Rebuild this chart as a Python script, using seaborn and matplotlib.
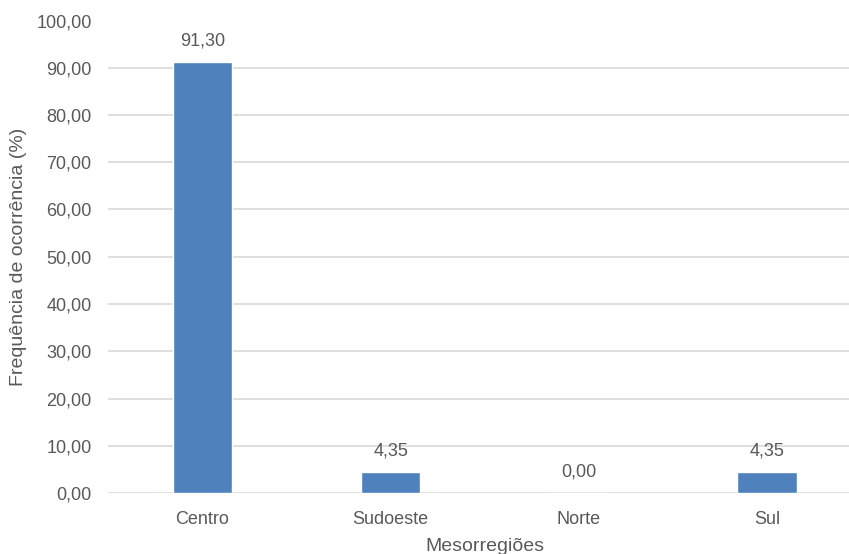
import seaborn as sns
import matplotlib.pyplot as plt
import pandas as pd

regioes = ['Centro', 'Sudoeste', 'Norte', 'Sul']
frequencia = [91.30, 4.35, 0.00, 4.35]
yticks = [0, 10, 20, 30, 40, 50, 60, 70, 80, 90, 100]

df = pd.DataFrame({'regiao': regioes, 'freq': frequencia})

sns.set_style('white')
plt.rcParams['font.family'] = ['Liberation Sans', 'DejaVu Sans']
cinza = '#595959'

fig = plt.figure(figsize=(8.49, 5.54), dpi=100)
ax = fig.add_axes([108.4 / 849, 61 / 554, 752.7 / 849, 472.5 / 554])

sns.barplot(data=df, x='regiao', y='freq', color='#4F81BD', saturation=1,
            width=0.315, ax=ax, zorder=3)

ax.set_ylim(0, 100)
ax.set_yticks(yticks)
ax.set_yticklabels([f'{v:.2f}'.replace('.', ',') for v in yticks])
ax.yaxis.grid(True, color='#D9D9D9', linewidth=1.2, zorder=0)
ax.set_axisbelow(True)
for s in ax.spines.values():
    s.set_visible(False)
ax.tick_params(axis='both', length=0, labelsize=13, colors=cinza)
ax.tick_params(axis='y', pad=12)
ax.tick_params(axis='x', pad=13)

for i, v in enumerate(frequencia):
    ax.annotate(f'{v:.2f}'.replace('.', ','), (i, v), xytext=(0, 9),
                textcoords='offset points', ha='center', va='bottom',
                fontsize=13, color=cinza)

ax.set_xlabel('Mesorregiões', fontsize=14, color=cinza, labelpad=7)
ax.set_ylabel('Frequência de ocorrência (%)', fontsize=14, color=cinza, labelpad=7)

fig.savefig('out.png', dpi=100)
